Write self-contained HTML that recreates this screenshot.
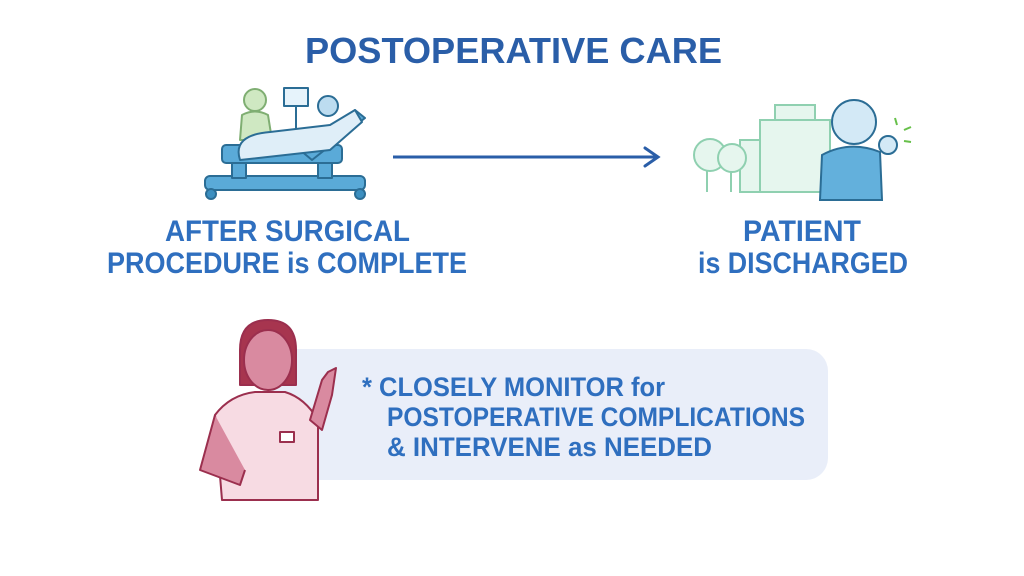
<!DOCTYPE html>
<html><head><meta charset="utf-8"><style>
html,body{margin:0;padding:0;background:#fff;width:1024px;height:576px;overflow:hidden}
svg{display:block}
text{font-family:"Liberation Sans",sans-serif;font-weight:bold;fill:#2f6fbf}
</style></head><body>
<svg width="1024" height="576" viewBox="0 0 1024 576">
<text x="305" y="63" font-size="36" textLength="417" lengthAdjust="spacingAndGlyphs" fill="#2a5ea8" style="fill:#2a5ea8">POSTOPERATIVE CARE</text>

<!-- bed illustration -->
<g stroke="#2b6d95" stroke-width="2" stroke-linejoin="round">
<rect x="205" y="176" width="160" height="14" rx="5" fill="#5aaad8"/>
<circle cx="211" cy="194" r="5" fill="#3c8fc0"/><circle cx="360" cy="194" r="5" fill="#3c8fc0"/>
<rect x="232" y="162" width="14" height="16" fill="#5aaad8"/><rect x="318" y="150" width="14" height="28" fill="#5aaad8"/>
<rect x="222" y="145" width="120" height="18" rx="4" fill="#5aaad8"/>
<path d="M300 150 L355 110 L365 118 L312 160 Z" fill="#5aaad8"/>
<circle cx="255" cy="100" r="11" fill="#cfe8c2" stroke="#7fae72"/>
<path d="M240 140 L242 115 Q255 108 268 115 L272 140 Z" fill="#cfe8c2" stroke="#7fae72"/>
<rect x="284" y="88" width="24" height="18" fill="#e6f3fb"/>
<line x1="296" y1="106" x2="296" y2="130"/>
<path d="M240 160 Q232 135 270 132 L330 125 L355 110 L362 122 L330 150 Z" fill="#dfeef8"/>
<circle cx="328" cy="106" r="10" fill="#bcdcf0"/>
</g>
<!-- arrow -->
<line x1="393" y1="157" x2="656" y2="157" stroke="#2a5ea8" stroke-width="3"/>
<path d="M645 148 L658 157 L645 166" fill="none" stroke="#2a5ea8" stroke-width="3" stroke-linecap="round"/>

<!-- hospital & patient -->
<g stroke="#8fd0b0" stroke-width="2" fill="#e6f6ee">
<rect x="760" y="120" width="70" height="72"/>
<rect x="775" y="105" width="40" height="15"/>
<rect x="740" y="140" width="20" height="52"/>
<circle cx="710" cy="155" r="16"/><circle cx="732" cy="158" r="14"/>
<line x1="707" y1="170" x2="707" y2="192"/><line x1="731" y1="172" x2="731" y2="192"/>
</g>
<g stroke="#2b6d95" stroke-width="2">
<circle cx="854" cy="122" r="22" fill="#d3e9f6"/>
<path d="M820 200 L822 155 Q850 140 880 152 L882 200 Z" fill="#63b0dc"/>
<circle cx="888" cy="145" r="9" fill="#d3e9f6"/>
</g>
<g stroke="#67c04a" stroke-width="2"><line x1="895" y1="118" x2="897" y2="125"/><line x1="904" y1="130" x2="911" y2="127"/><line x1="904" y1="141" x2="911" y2="142"/></g>

<text x="165" y="241" font-size="30" textLength="245" lengthAdjust="spacingAndGlyphs">AFTER SURGICAL</text>
<text x="107" y="273" font-size="30" textLength="360" lengthAdjust="spacingAndGlyphs">PROCEDURE is COMPLETE</text>
<text x="743" y="241" font-size="30" textLength="118" lengthAdjust="spacingAndGlyphs">PATIENT</text>
<text x="698" y="273" font-size="30" textLength="210" lengthAdjust="spacingAndGlyphs">is DISCHARGED</text>

<rect x="270" y="349" width="558" height="131" rx="22" fill="#e9eef9"/>

<!-- nurse -->
<g stroke="#9b2f4e" stroke-width="2" stroke-linejoin="round">
<path d="M240 350 Q240 320 268 320 Q296 320 296 350 L296 385 L240 385 Z" fill="#a7354f"/>
<ellipse cx="268" cy="360" rx="24" ry="30" fill="#d98aa0"/>
<path d="M215 415 Q230 395 255 392 L285 392 Q305 398 318 420 L318 500 L222 500 Z" fill="#f7dbe3"/>
<path d="M215 415 L200 470 L240 485 L245 470" fill="#d98aa0"/>
<path d="M310 420 L322 380 L328 372 L336 368 L332 395 L322 430 Z" fill="#d98aa0"/>
<rect x="280" y="432" width="14" height="10" fill="#fff"/>
</g>
<text x="362" y="396" font-size="27" textLength="303" lengthAdjust="spacingAndGlyphs">* CLOSELY MONITOR for</text>
<text x="387" y="426" font-size="27" textLength="418" lengthAdjust="spacingAndGlyphs">POSTOPERATIVE COMPLICATIONS</text>
<text x="387" y="456" font-size="27" textLength="325" lengthAdjust="spacingAndGlyphs">&amp; INTERVENE as NEEDED</text>
</svg>
</body></html>
